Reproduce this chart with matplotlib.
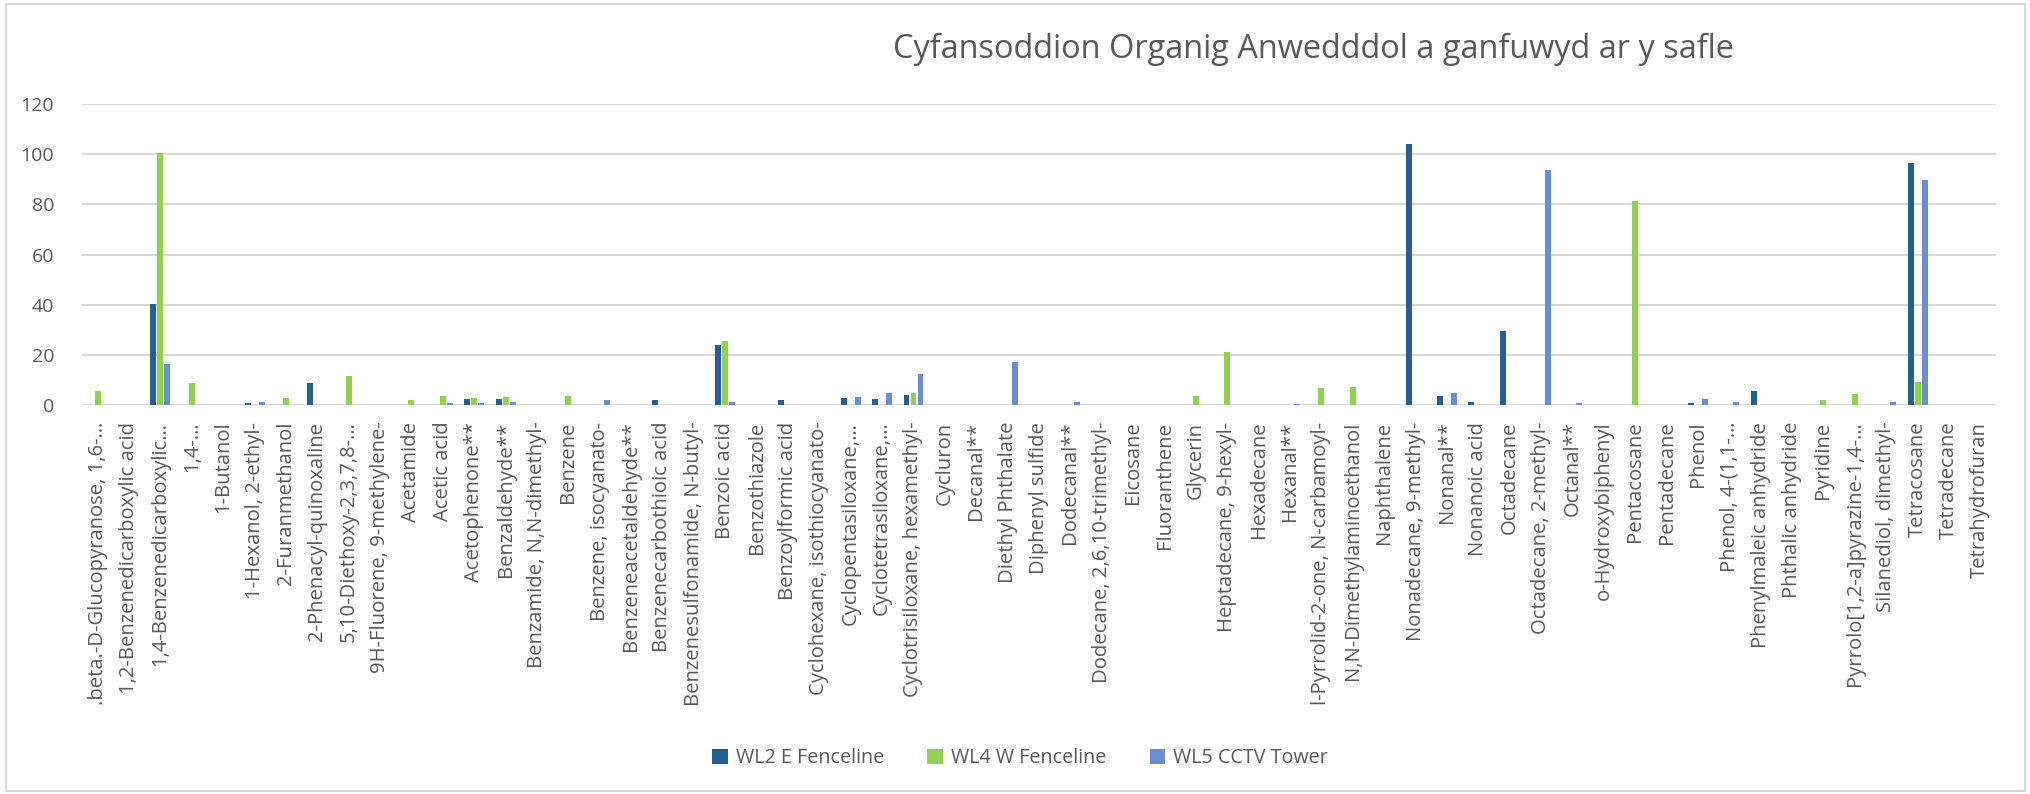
import matplotlib
matplotlib.use("Agg")
import matplotlib.pyplot as plt
import numpy as np
from matplotlib.patches import Rectangle, Patch

plt.rcParams['font.family'] = ['Open Sans', 'DejaVu Sans']

title = "Cyfansoddion Organig Anwedddol a ganfuwyd ar y safle"

categories = [
    ".beta.-D-Glucopyranose, 1,6-…", "1,2-Benzenedicarboxylic acid", "1,4-Benzenedicarboxylic…",
    "1,4-…", "1-Butanol", "1-Hexanol, 2-ethyl-", "2-Furanmethanol", "2-Phenacyl-quinoxaline",
    "5,10-Diethoxy-2,3,7,8-…", "9H-Fluorene, 9-methylene-", "Acetamide", "Acetic acid",
    "Acetophenone**", "Benzaldehyde**", "Benzamide, N,N-dimethyl-", "Benzene",
    "Benzene, isocyanato-", "Benzeneacetaldehyde**", "Benzenecarbothioic acid",
    "Benzenesulfonamide, N-butyl-", "Benzoic acid", "Benzothiazole", "Benzoylformic acid",
    "Cyclohexane, isothiocyanato-", "Cyclopentasiloxane,…", "Cyclotetrasiloxane,…",
    "Cyclotrisiloxane, hexamethyl-", "Cycluron", "Decanal**", "Diethyl Phthalate",
    "Diphenyl sulfide", "Dodecanal**", "Dodecane, 2,6,10-trimethyl-", "Eicosane",
    "Fluoranthene", "Glycerin", "Heptadecane, 9-hexyl-", "Hexadecane", "Hexanal**",
    "l-Pyrrolid-2-one, N-carbamoyl-", "N,N-Dimethylaminoethanol", "Naphthalene",
    "Nonadecane, 9-methyl-", "Nonanal**", "Nonanoic acid", "Octadecane",
    "Octadecane, 2-methyl-", "Octanal**", "o-Hydroxybiphenyl", "Pentacosane",
    "Pentadecane", "Phenol", "Phenol, 4-(1,1-…", "Phenylmaleic anhydride",
    "Phthalic anhydride", "Pyridine", "Pyrrolo[1,2-a]pyrazine-1,4-…",
    "Silanediol, dimethyl-", "Tetracosane", "Tetradecane", "Tetrahydrofuran",
]

series_names = ["WL2 E Fenceline", "WL4 W Fenceline", "WL5 CCTV Tower"]

wl2 = [0, 0, 40.1, 0, 0, 0.8, 0, 8.8, 0, 0,
       0, 0, 2.4, 2.4, 0, 0, 0, 0, 2.1, 0,
       23.8, 0, 2.0, 0, 2.9, 2.4, 4.0, 0, 0, 0,
       0, 0, 0, 0, 0, 0, 0, 0, 0, 0,
       0, 0, 104.2, 3.7, 1.1, 29.6, 0, 0, 0, 0,
       0, 0.8, 0, 5.4, 0, 0, 0, 0, 96.5, 0,
       0]
wl4 = [5.6, 0, 100.3, 8.9, 0, 0, 2.8, 0, 11.7, 0,
       1.8, 3.7, 2.9, 3.2, 0, 3.7, 0, 0, 0, 0,
       25.4, 0, 0, 0, 0, 0, 4.8, 0, 0, 0,
       0, 0, 0, 0, 0, 3.7, 21.0, 0, 0, 6.9,
       7.0, 0, 0, 0, 0, 0, 0, 0, 0, 81.3,
       0, 0, 0, 0, 0, 1.9, 4.4, 0, 9.2, 0,
       0]
wl5 = [0, 0, 16.3, 0, 0, 1.1, 0, 0, 0, 0,
       0, 0.7, 0.9, 1.3, 0, 0, 1.9, 0, 0, 0,
       1.2, 0, 0, 0, 3.3, 4.9, 12.5, 0, 0, 17.0,
       0, 1.3, 0, 0, 0, 0, 0, 0, 0.4, 0,
       0, 0, 0, 4.7, 0, 0, 93.6, 0.9, 0, 0,
       0, 2.3, 1.1, 0, 0, 0, 0, 1.1, 89.8, 0,
       0]

yticks = [0, 20, 40, 60, 80, 100, 120]
colors = ["#255E91", "#92D050", "#6A8FD1"]

W, H = 2031, 794
fig = plt.figure(figsize=(W / 100, H / 100), dpi=100)
fig.patch.set_facecolor("white")

# chart border
fig.add_artist(Rectangle((6 / W, 3 / H), (2025 - 6) / W, (H - 7) / H,
                         transform=fig.transFigure, fill=False,
                         edgecolor="#D9D9D9", linewidth=1.5))

left, right = 82 / W, 1996 / W
bottom, top = 1 - 405 / H, 1 - 104 / H
ax = fig.add_axes([left, bottom, right - left, top - bottom])

x = np.arange(len(categories))
offs = [-0.223, 0, 0.223]
bw = 0.19
for vals, off, c, name in zip([wl2, wl4, wl5], offs, colors, series_names):
    ax.bar(x + off, vals, width=bw, color=c, linewidth=0, label=name, zorder=3)

ax.set_xlim(-0.5, len(categories) - 0.5)
ax.set_ylim(0, 120)
ax.set_yticks(yticks)
ax.set_yticklabels([str(v) for v in yticks], fontsize=14, color="#595959")
ax.set_xticks(x)
ax.set_xticklabels(categories, rotation=90, fontsize=14.6, color="#595959",
                   va="top", ha="center")
ax.tick_params(axis="both", length=0)
ax.tick_params(axis="y", pad=20)
ax.tick_params(axis="x", pad=12)
ax.grid(axis="y", color="#D9D9D9", linewidth=1.5, zorder=0)
for s in ax.spines.values():
    s.set_visible(False)

fig.text(1313 / W, 1 - 49 / H, title, fontsize=23.4, color="#595959",
         ha="center", va="center")

handles = [Patch(facecolor=c, edgecolor="none") for c in colors]
fig.legend(handles, series_names, loc="center", bbox_to_anchor=(1020 / W, 1 - 758 / H),
           ncol=3, frameon=False, fontsize=14.2, labelcolor="#595959",
           handlelength=0.8, handleheight=0.8, columnspacing=2.2, handletextpad=0.4)

fig.savefig("out.png", dpi=100, facecolor="white")
